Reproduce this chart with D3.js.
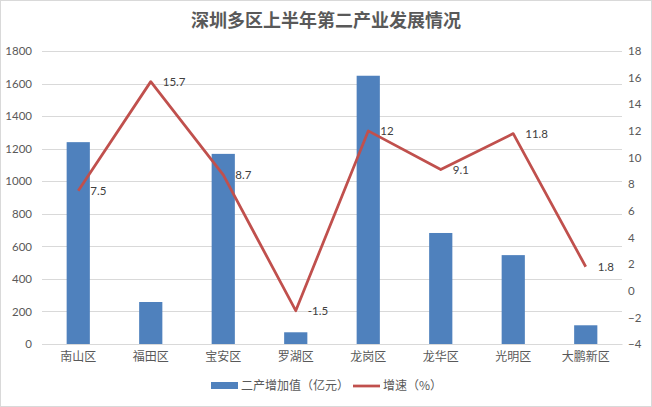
<!DOCTYPE html>
<html>
<head>
<meta charset="utf-8">
<script src="https://cdn.jsdelivr.net/npm/d3@7"></script>
<style>
  body { margin: 0; background: #fff; }
  svg { display: block; }
</style>
</head>
<body>
<svg id="chart" width="652" height="407"></svg>
<script>
// data
var districts = ["南山区", "福田区", "宝安区", "罗湖区", "龙岗区", "龙华区", "光明区", "大鹏新区"];
var outputValues = [1240, 258, 1168, 72, 1648, 682, 546, 115];   // 二产增加值（亿元）
var growthRates = [7.5, 15.7, 8.7, -1.5, 12, 9.1, 11.8, 1.8];    // 增速（%）
var leftTicks = [0, 200, 400, 600, 800, 1000, 1200, 1400, 1600, 1800];
var rightTicks = [-4, -2, 0, 2, 4, 6, 8, 10, 12, 14, 16, 18];

var numFont = "Lato, 'Noto Sans CJK SC', sans-serif";
var cjkFont = "'Noto Sans CJK SC', sans-serif";

var svg = d3.select("#chart");
var W = 652, H = 407;
var plot = { left: 42, right: 622, top: 51, bottom: 344 };

// outer border
svg.append("rect")
  .attr("x", 0.5).attr("y", 0.5)
  .attr("width", W - 1).attr("height", H - 1)
  .attr("fill", "#fff")
  .attr("stroke", "#d9d9d9");

// title
svg.append("text")
  .attr("x", W / 2).attr("y", 27)
  .attr("text-anchor", "middle")
  .attr("font-family", cjkFont)
  .attr("font-size", 18)
  .attr("font-weight", "bold")
  .attr("fill", "#595959")
  .text("深圳多区上半年第二产业发展情况");

var x = d3.scaleBand()
  .domain(districts)
  .range([plot.left, plot.right])
  .paddingInner(0.68)
  .paddingOuter(0.34);

var yL = d3.scaleLinear().domain([0, 1800]).range([plot.bottom, plot.top]);
var yR = d3.scaleLinear().domain([-4, 18]).range([plot.bottom, plot.top]);

// grid lines
svg.append("g")
  .selectAll("line")
  .data(leftTicks)
  .enter()
  .append("line")
  .attr("x1", plot.left).attr("x2", plot.right)
  .attr("y1", function(d) { return Math.round(yL(d)) + 0.5; })
  .attr("y2", function(d) { return Math.round(yL(d)) + 0.5; })
  .attr("stroke", "#d9d9d9")
  .attr("stroke-width", 1);

// left axis labels
var leftAxis = d3.axisLeft(yL).tickValues(leftTicks).tickFormat(d3.format("d")).tickSize(0).tickPadding(8);
var gl = svg.append("g")
  .attr("transform", "translate(" + (plot.left - 2) + ",0)")
  .call(leftAxis);
gl.select(".domain").remove();
gl.selectAll("text")
  .attr("font-family", numFont)
  .attr("font-size", 11.5)
  .attr("fill", "#595959");

// right axis labels
var rightAxis = d3.axisRight(yR).tickValues(rightTicks).tickFormat(d3.format("d")).tickSize(0).tickPadding(6);
var gr = svg.append("g")
  .attr("transform", "translate(" + plot.right + ",0)")
  .call(rightAxis);
gr.select(".domain").remove();
gr.selectAll("text")
  .attr("font-family", numFont)
  .attr("font-size", 11.5)
  .attr("fill", "#595959");

// category axis
var bottomAxis = d3.axisBottom(x).tickSize(0).tickPadding(8);
var gb = svg.append("g")
  .attr("transform", "translate(0," + plot.bottom + ")")
  .call(bottomAxis);
gb.select(".domain").attr("stroke", "#d9d9d9");
gb.selectAll("text")
  .attr("font-family", cjkFont)
  .attr("font-size", 12)
  .attr("fill", "#595959");

// bars
svg.append("g")
  .selectAll("rect")
  .data(outputValues)
  .enter()
  .append("rect")
  .attr("x", function(d, i) { return x(districts[i]); })
  .attr("width", x.bandwidth())
  .attr("y", function(d) { return yL(d); })
  .attr("height", function(d) { return yL(0) - yL(d); })
  .attr("fill", "#4f81bd");

// growth line
var line = d3.line()
  .x(function(d, i) { return x(districts[i]) + x.bandwidth() / 2; })
  .y(function(d) { return yR(d); });

svg.append("path")
  .datum(growthRates)
  .attr("d", line)
  .attr("fill", "none")
  .attr("stroke", "#c0504d")
  .attr("stroke-width", 2.75)
  .attr("stroke-linejoin", "round");

// data labels
svg.append("g")
  .selectAll("text")
  .data(growthRates)
  .enter()
  .append("text")
  .attr("x", function(d, i) { return x(districts[i]) + x.bandwidth() / 2 + 12; })
  .attr("y", function(d) { return yR(d) + 4; })
  .attr("font-family", numFont)
  .attr("font-size", 11.5)
  .attr("fill", "#404040")
  .text(function(d) { return d; });

// legend
var legend = svg.append("g").attr("transform", "translate(0,386)");
legend.append("rect")
  .attr("x", 211).attr("y", -4)
  .attr("width", 27).attr("height", 7)
  .attr("fill", "#4f81bd");
legend.append("text")
  .attr("x", 241).attr("y", 4)
  .attr("font-family", cjkFont)
  .attr("font-size", 12)
  .attr("fill", "#595959")
  .text("二产增加值（亿元）");
legend.append("line")
  .attr("x1", 353).attr("x2", 380)
  .attr("y1", 0).attr("y2", 0)
  .attr("stroke", "#c0504d")
  .attr("stroke-width", 2.75);
legend.append("text")
  .attr("x", 383).attr("y", 4)
  .attr("font-family", cjkFont)
  .attr("font-size", 12)
  .attr("fill", "#595959")
  .text("增速（%）");
</script>
</body>
</html>
